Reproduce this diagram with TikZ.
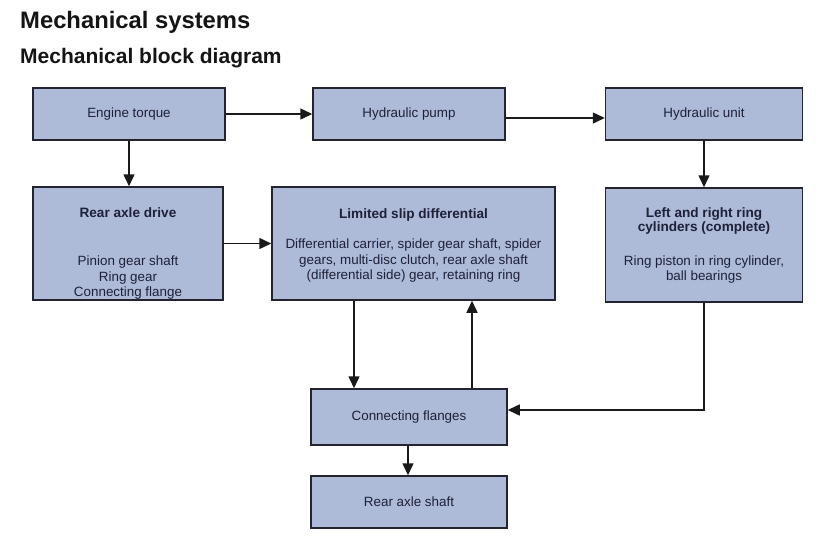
\documentclass[tikz,border=0pt]{standalone}
\usepackage{fontspec}
\setmainfont{Liberation Sans}
\usetikzlibrary{arrows.meta}
\definecolor{boxfill}{HTML}{ADBAD8}
\definecolor{boxline}{HTML}{23242F}
\definecolor{txtcol}{HTML}{1E2138}
\tikzset{
  blk/.style={draw=boxline, line width=1.5pt, fill=boxfill, inner sep=0pt},
  txt/.style={text=txtcol, align=center, inner sep=0pt, font=\fontsize{13.4}{15.5}\selectfont},
  hd/.style={text=txtcol, align=center, inner sep=0pt, font=\fontsize{13.6}{14.5}\selectfont\bfseries},
  arr/.style={draw=black!90, line width=1.5pt, -{Triangle[length=12pt,width=11pt]}},
}
\begin{document}
\begin{tikzpicture}[x=1pt,y=-1pt]
\useasboundingbox (0,0) rectangle (828,536);
\node[anchor=base west, inner sep=0pt, font=\fontsize{23.8}{26}\selectfont\bfseries, text=black!92] (t1) at (20,28) {Mechanical systems};
\node[anchor=base west, inner sep=0pt, font=\fontsize{21}{24}\selectfont\bfseries, text=black!92] (t2) at (20,63) {Mechanical block diagram};

% boxes
\node[blk, minimum width=192pt, minimum height=52pt] (et) at (129,114) {};
\node[blk, minimum width=192pt, minimum height=52pt] (hp) at (409,114) {};
\node[blk, minimum width=197pt, minimum height=52pt] (hu) at (704,114) {};
\node[blk, minimum width=190pt, minimum height=113pt] (rad) at (128,243.5) {};
\node[blk, minimum width=283pt, minimum height=113pt] (lsd) at (413.5,243.5) {};
\node[blk, minimum width=197pt, minimum height=114pt] (lrc) at (704,245) {};
\node[blk, minimum width=196pt, minimum height=56pt] (cf) at (409,417) {};
\node[blk, minimum width=196pt, minimum height=52pt] (ras) at (409,502) {};

% texts
\node[txt] (etT) at (129,114) {Engine torque};
\node[txt] (hpT) at (409,114) {Hydraulic pump};
\node[txt] (huT) at (704,114) {Hydraulic unit};
\node[hd] (radH) at (128,213) {Rear axle drive};
\node[txt] (radT) at (128,278) {Pinion gear shaft\\Ring gear\\Connecting flange};
\node[hd] (lsdH) at (413.5,215) {Limited slip differential};
\node[txt] (lsdT) at (413.5,261) {Differential carrier, spider gear shaft, spider\\gears, multi-disc clutch, rear axle shaft\\(differential side) gear, retaining ring};
\node[hd] (lrcH) at (704,221) {Left and right ring\\cylinders (complete)};
\node[txt] (lrcT) at (704,269.5) {Ring piston in ring cylinder,\\ball bearings};
\node[txt] (cfT) at (409,417) {Connecting flanges};
\node[txt] (rasT) at (409,502) {Rear axle shaft};

% connectors
\draw[arr] (et.east) -- (hp.west);
\draw[arr] ([yshift=-4pt]hp.east) -- ([yshift=-4pt]hu.west);
\draw[arr] (et.south) -- (et.south |- rad.north);
\draw[arr] (hu.south) -- (lrc.north);
\draw[arr] (rad.east) -- (rad.east -| lsd.west);
\draw[arr] ([xshift=-55pt]cf.north |- lsd.south) -- ([xshift=-55pt]cf.north);
\draw[arr] ([xshift=63pt]cf.north) -- ([xshift=63pt]cf.north |- lsd.south);
\draw[arr] (lrc.south) |- ([yshift=7pt]cf.east);
\draw[arr] ([xshift=-1pt]cf.south) -- ([xshift=-1pt]ras.north);
\end{tikzpicture}
\end{document}
